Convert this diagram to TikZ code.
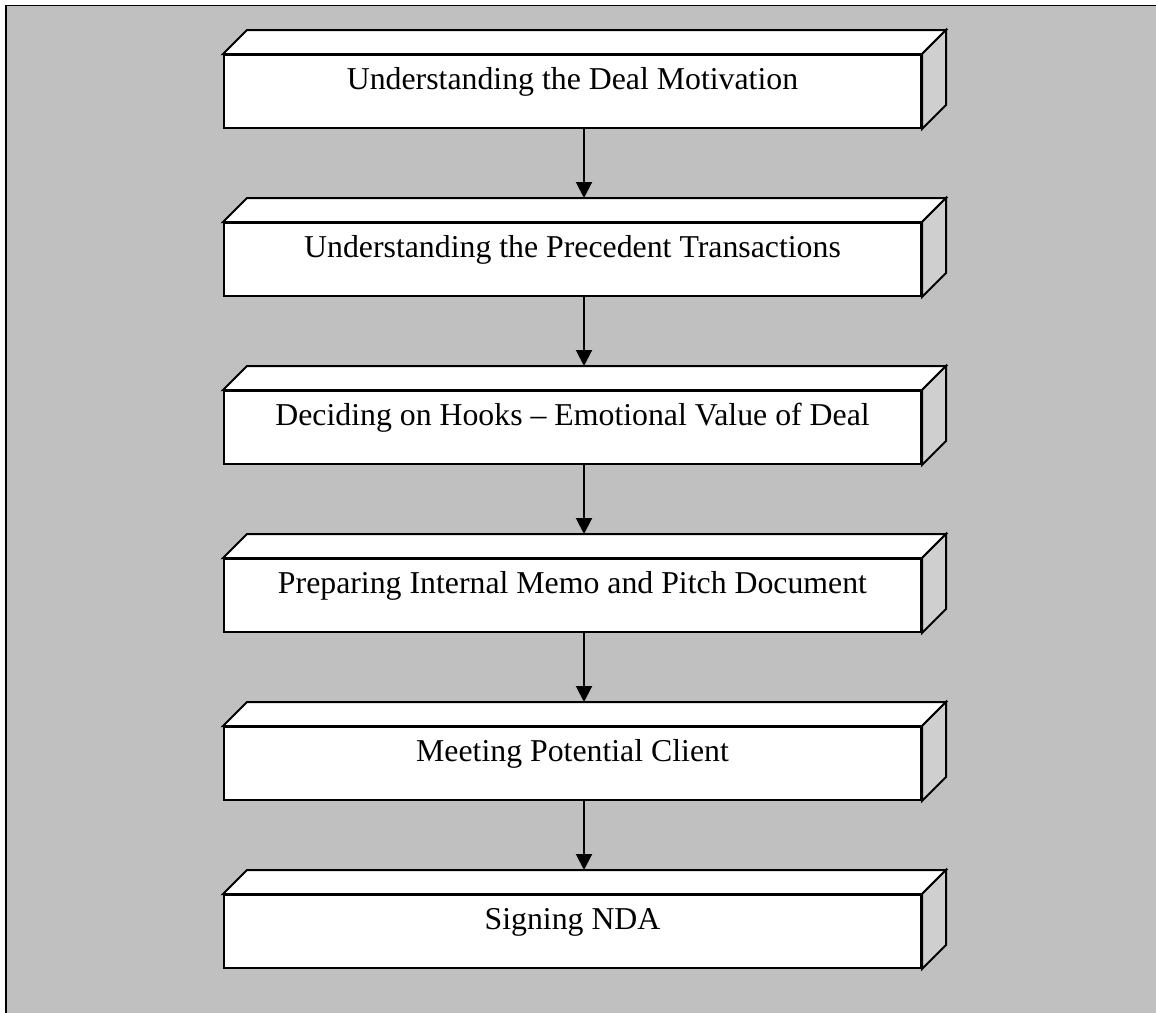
\documentclass[tikz,border=0pt]{standalone}
\usepackage{fontspec}
\setmainfont{Liberation Serif}
\usetikzlibrary{arrows.meta,calc}
\definecolor{bggray}{HTML}{C0C0C0}
\definecolor{sidegray}{HTML}{CFCFCF}
\begin{document}
\begin{tikzpicture}[x=1pt,y=-1pt,
  front/.style={draw=black,line width=2pt,fill=white,rectangle,
    minimum width=697pt,minimum height=73pt,inner sep=0pt},
  face/.style={draw=black,line width=2pt,line join=miter},
  label/.style={font=\fontsize{31.8pt}{36pt}\selectfont,anchor=base,inner sep=0pt},
  arr/.style={line width=2pt,-{Triangle[width=16pt,length=16pt]}}]
  \useasboundingbox (0,0) rectangle (1156,1012);
  % page frame and grey background
  \fill[bggray] (6,5.5) rectangle (1170,1030);
  \draw[line width=1.5pt] (6,1030) -- (6,5.5) -- (1170,5.5);
  % the six steps as 3D blocks
  \foreach \i/\txt in {0/Understanding the Deal Motivation,
                       1/Understanding the Precedent Transactions,
                       2/Deciding on Hooks – Emotional Value of Deal,
                       3/Preparing Internal Memo and Pitch Document,
                       4/Meeting Potential Client,
                       5/Signing NDA}{
    \pgfmathsetmacro{\yt}{54+168*\i}
    \node[front,anchor=north west] (b\i) at (223,\yt) {};
    \draw[face,fill=white] (b\i.north west) -- ++(24,-24) -- ($(b\i.north east)+(24,-24)$) -- (b\i.north east) -- cycle;
    \draw[face,fill=sidegray] (b\i.north east) -- ++(24,-24) -- ($(b\i.south east)+(24,-24)$) -- (b\i.south east) -- cycle;
    \node[label] (t\i) at ($(b\i.north)+(0,35)$) {\txt};
    \coordinate (top\i) at ($(b\i.north)+(11.5,-24)$);
  }
  % connectors between successive steps
  \foreach \i/\j in {0/1,1/2,2/3,3/4,4/5}{
    \draw[arr] (b\i.south -| top\j) -- (top\j);
  }
\end{tikzpicture}
\end{document}
